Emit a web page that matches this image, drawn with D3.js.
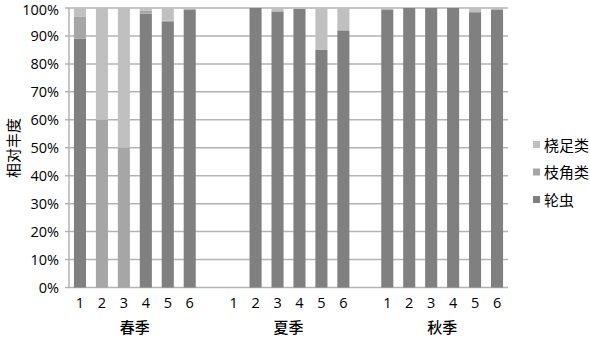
<!DOCTYPE html>
<html><head><meta charset="utf-8">
<script src="https://cdn.jsdelivr.net/npm/d3@7"></script>
<style>body{margin:0;background:#fff}svg{display:block}</style>
</head><body>
<svg id="c" width="590" height="337"></svg>
<script>
const seasons = ["春季", "夏季", "秋季"];
const sites = ["1", "2", "3", "4", "5", "6"];
const seriesNames = ["轮虫", "枝角类", "桡足类"];
// values per season, per site (percent)
const rotifer  = [[89, 0, 0, 98, 95, 99.5], [0, 100, 98.8, 99.7, 85, 92], [99.5, 100, 100, 100, 98.5, 99.5]];
const cladocera = [[8, 60, 50, 1, 0.5, 0], [0, 0, 0, 0, 0, 0], [0, 0, 0, 0, 0, 0]];
const copepod  = [[3, 40, 50, 1, 4.5, 0.5], [0, 0, 1.2, 0.3, 15, 8], [0.5, 0, 0, 0, 1.5, 0.5]];
const yTicks = [0, 10, 20, 30, 40, 50, 60, 70, 80, 90, 100];
const colors = ["#808080", "#a6a6a6", "#c0c0c0"];

const svg = d3.select("#c");
const m = {l: 69, r: 508, t: 8, b: 287.5};
const latin = "'Open Sans', 'Liberation Sans', sans-serif";
const cjk = "'Noto Sans CJK SC', sans-serif";

// build slots: 6 sites + blank between seasons
const slots = [];
seasons.forEach((s, si) => {
  sites.forEach((p, pi) => slots.push({key: s + p, season: si, site: pi}));
  if (si < seasons.length - 1) slots.push({key: "gap" + si, gap: true});
});
const x = d3.scaleBand().domain(slots.map(d => d.key)).range([m.l, m.r]).paddingInner(0.45).paddingOuter(0.225);
const y = d3.scaleLinear().domain([0, 100]).range([m.b, m.t]);

// grid
svg.append("g").selectAll("line").data(yTicks).join("line")
  .attr("x1", m.l - 4).attr("x2", m.r).attr("y1", d => y(d)).attr("y2", d => y(d))
  .attr("stroke", "#b3b3b3").attr("stroke-width", 1.5);
// y axis line
svg.append("line").attr("x1", m.l).attr("x2", m.l).attr("y1", m.t).attr("y2", m.b)
  .attr("stroke", "#b3b3b3").attr("stroke-width", 1.5);

// y labels
const yAxis = d3.axisLeft(y).tickValues(yTicks).tickFormat(d => d + "%").tickSize(0).tickPadding(8);
const ya = svg.append("g").attr("transform", `translate(${m.l - 2},0)`).call(yAxis);
ya.select(".domain").remove();
ya.selectAll("text").attr("font-family", latin).attr("font-size", 14.5).attr("fill", "#000")
  .attr("dy", d => d === 100 ? "0.47em" : "0.32em");

// stacked bars
const stackData = slots.filter(d => !d.gap).map(d => ({
  key: d.key, vals: [rotifer[d.season][d.site], cladocera[d.season][d.site], copepod[d.season][d.site]]
}));
const stack = d3.stack().keys([0, 1, 2]).value((d, k) => d.vals[k]);
const layers = stack(stackData);
svg.append("g").selectAll("g").data(layers).join("g").attr("fill", (d, i) => colors[i])
  .selectAll("rect").data(d => d).join("rect")
  .attr("x", d => x(d.data.key)).attr("width", x.bandwidth())
  .attr("y", d => y(d[1])).attr("height", d => Math.max(0, y(d[0]) - y(d[1])));

// x labels (site numbers)
const xAxis = d3.axisBottom(x).tickSize(0).tickPadding(10)
  .tickFormat(k => { const s = slots.find(d => d.key === k); return s.gap ? "" : sites[s.site]; });
const xa = svg.append("g").attr("transform", `translate(0,${m.b})`).call(xAxis);
xa.select(".domain").remove();
xa.selectAll("text").attr("font-family", latin).attr("font-size", 14.5).attr("fill", "#000");

// season labels
svg.append("g").selectAll("text").data(seasons).join("text")
  .attr("x", (s, si) => {
    const a = x(s + sites[0]), b = x(s + sites[sites.length - 1]) + x.bandwidth();
    return (a + b) / 2;
  })
  .attr("y", 333).attr("text-anchor", "middle")
  .attr("font-family", cjk).attr("font-weight", 500).attr("font-size", 15).text(d => d);

// y title
svg.append("text").attr("transform", "translate(19,148) rotate(-90)").attr("text-anchor", "middle")
  .attr("font-family", cjk).attr("font-size", 15).text("相对丰度");

// legend
const legendOrder = [2, 1, 0];
const lg = svg.append("g").selectAll("g").data(legendOrder).join("g")
  .attr("transform", (d, i) => `translate(533,${145 + i * 27.5})`);
lg.append("rect").attr("x", 0).attr("y", -4).attr("width", 7).attr("height", 7).attr("fill", d => colors[d]);
lg.append("text").attr("x", 11).attr("y", 5.5).attr("font-family", cjk)
  .attr("font-size", 15).text(d => seriesNames[d]);
</script>
</body></html>
